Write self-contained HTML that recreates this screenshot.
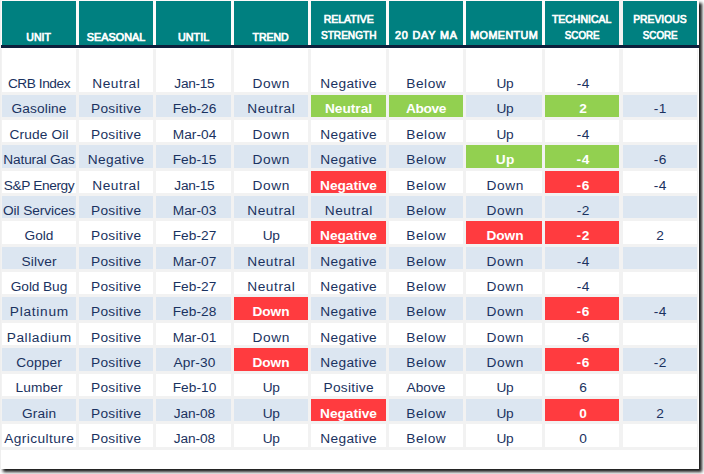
<!DOCTYPE html>
<html><head><meta charset="utf-8"><title>Technical Scores</title>
<style>
html,body{margin:0;padding:0;}
body{width:704px;height:474px;background:#ffffff;position:relative;overflow:hidden;font-family:"Liberation Sans",sans-serif;}
#sheet{position:absolute;left:0;top:0;width:699px;height:469px;background:#fff;box-shadow:3px 3px 3px 0 #1a1a1a;}
#grid{position:absolute;left:0;top:49px;width:698px;height:401px;background:#f2f2f2;}
#topgap{position:absolute;left:0;top:0;width:699px;height:45px;background:#fdfafa;}
#lastgap{position:absolute;left:619px;top:0;width:4px;height:45px;background:#f2f2f2;}
#lstrip{position:absolute;left:0;top:0;width:1px;height:469px;background:#efefef;}
#navy{position:absolute;left:0;top:45px;width:699px;height:3px;background:#0d1f3c;}
.h{position:absolute;top:1px;height:44px;background:#008080;color:#fff;font-weight:normal;-webkit-text-stroke:0.7px #fff;font-size:10.8px;line-height:16px;text-align:center;white-space:nowrap;}
.h i{font-style:normal;display:inline-block;transform-origin:center;}
.h span{position:absolute;left:-10px;right:-10px;display:block;}
.c{position:absolute;color:#1a3260;font-size:13.7px;text-align:center;white-space:nowrap;background:#fff;}
.c span{position:absolute;left:-10px;right:-10px;line-height:16px;display:block;}
.b{background:#dce6f1;}
.g{background:#92d050;color:#fff;font-weight:bold;-webkit-text-stroke:0px #fff;}
.r{background:#ff3b3f;color:#fff;font-weight:bold;-webkit-text-stroke:0px #fff;}
</style></head><body>
<div id="sheet">
<div id="topgap"></div><div id="lastgap"></div>

<div class="h" style="left:2px;width:74px"><span style="bottom:0px"><i style="transform:scaleX(0.974);">UNIT</i></span></div>
<div class="h" style="left:79px;width:74px"><span style="bottom:0px"><i style="letter-spacing:0.07px;margin-right:-0.07px;">SEASONAL</i></span></div>
<div class="h" style="left:156px;width:75px"><span style="bottom:0px"><i style="transform:scaleX(0.994);">UNTIL</i></span></div>
<div class="h" style="left:234px;width:74px"><span style="bottom:0px"><i style="transform:scaleX(0.974);">TREND</i></span></div>
<div class="h" style="left:311px;width:75px"><span style="bottom:18px"><i style="transform:scaleX(0.975);">RELATIVE</i></span> <span style="bottom:2px"><i style="transform:scaleX(0.934);">STRENGTH</i></span></div>
<div class="h" style="left:389px;width:74px"><span style="bottom:2px"><i style="letter-spacing:0.83px;margin-right:-0.83px;">20 DAY MA</i></span></div>
<div class="h" style="left:466px;width:76px"><span style="bottom:2px"><i style="letter-spacing:0.40px;margin-right:-0.40px;">MOMENTUM</i></span></div>
<div class="h" style="left:545px;width:74px"><span style="bottom:18px"><i style="transform:scaleX(0.971);">TECHNICAL</i></span> <span style="bottom:2px"><i style="transform:scaleX(0.905);">SCORE</i></span></div>
<div class="h" style="left:623px;width:74px"><span style="bottom:18px"><i style="transform:scaleX(0.956);">PREVIOUS</i></span> <span style="bottom:2px"><i style="transform:scaleX(0.905);">SCORE</i></span></div>
<div id="navy"></div>
<div id="grid"></div><div id="lstrip"></div>
<div class="c" style="left:2px;top:49px;width:74px;height:43px"><span style="bottom:0px;letter-spacing:-0.44px">CRB Index</span></div>
<div class="c" style="left:79px;top:49px;width:74px;height:43px"><span style="bottom:0px;letter-spacing:0.56px;padding-left:0.56px">Neutral</span></div>
<div class="c" style="left:156px;top:49px;width:75px;height:43px"><span style="bottom:0px;letter-spacing:-0.32px;padding-left:1.68px">Jan-15</span></div>
<div class="c" style="left:234px;top:49px;width:74px;height:43px"><span style="bottom:0px;letter-spacing:0.60px;padding-left:0.60px">Down</span></div>
<div class="c" style="left:311px;top:49px;width:75px;height:43px"><span style="bottom:0px;letter-spacing:0.35px;padding-left:0.35px">Negative</span></div>
<div class="c" style="left:389px;top:49px;width:74px;height:43px"><span style="bottom:0px;letter-spacing:0.50px;padding-left:0.50px">Below</span></div>
<div class="c" style="left:466px;top:49px;width:76px;height:43px"><span style="bottom:0px;letter-spacing:-0.50px;padding-left:1.50px">Up</span></div>
<div class="c" style="left:545px;top:49px;width:74px;height:43px"><span style="bottom:0px;letter-spacing:0.50px;padding-left:2.50px">-4</span></div>
<div class="c" style="left:623px;top:49px;width:74px;height:43px"><span style="bottom:0px;letter-spacing:0.00px"></span></div>
<div class="c b" style="left:2px;top:95px;width:74px;height:22px"><span style="bottom:0px;letter-spacing:0.11px;padding-left:0.11px">Gasoline</span></div>
<div class="c b" style="left:79px;top:95px;width:74px;height:22px"><span style="bottom:0px;letter-spacing:0.31px;padding-left:0.31px">Positive</span></div>
<div class="c b" style="left:156px;top:95px;width:75px;height:22px"><span style="bottom:0px;letter-spacing:0.04px;padding-left:2.04px">Feb-26</span></div>
<div class="c b" style="left:234px;top:95px;width:74px;height:22px"><span style="bottom:0px;letter-spacing:0.56px;padding-left:0.56px">Neutral</span></div>
<div class="c b g" style="left:311px;top:95px;width:75px;height:22px"><span style="bottom:0px;letter-spacing:-0.00px">Neutral</span></div>
<div class="c b g" style="left:389px;top:95px;width:74px;height:22px"><span style="bottom:0px;letter-spacing:-0.40px">Above</span></div>
<div class="c b" style="left:466px;top:95px;width:76px;height:22px"><span style="bottom:0px;letter-spacing:-0.50px;padding-left:1.50px">Up</span></div>
<div class="c b g" style="left:545px;top:95px;width:74px;height:22px"><span style="bottom:0px;letter-spacing:0.00px;padding-left:2.00px">2</span></div>
<div class="c b" style="left:623px;top:95px;width:74px;height:22px"><span style="bottom:0px;letter-spacing:0.50px;padding-left:0.50px">-1</span></div>
<div class="c" style="left:2px;top:120px;width:74px;height:22px"><span style="bottom:-1px;letter-spacing:0.16px;padding-left:0.16px">Crude Oil</span></div>
<div class="c" style="left:79px;top:120px;width:74px;height:22px"><span style="bottom:-1px;letter-spacing:0.31px;padding-left:0.31px">Positive</span></div>
<div class="c" style="left:156px;top:120px;width:75px;height:22px"><span style="bottom:-1px;letter-spacing:0.04px;padding-left:2.04px">Mar-04</span></div>
<div class="c" style="left:234px;top:120px;width:74px;height:22px"><span style="bottom:-1px;letter-spacing:0.60px;padding-left:0.60px">Down</span></div>
<div class="c" style="left:311px;top:120px;width:75px;height:22px"><span style="bottom:-1px;letter-spacing:0.35px;padding-left:0.35px">Negative</span></div>
<div class="c" style="left:389px;top:120px;width:74px;height:22px"><span style="bottom:-1px;letter-spacing:0.50px;padding-left:0.50px">Below</span></div>
<div class="c" style="left:466px;top:120px;width:76px;height:22px"><span style="bottom:-1px;letter-spacing:-0.50px;padding-left:1.50px">Up</span></div>
<div class="c" style="left:545px;top:120px;width:74px;height:22px"><span style="bottom:-1px;letter-spacing:0.50px;padding-left:2.50px">-4</span></div>
<div class="c" style="left:623px;top:120px;width:74px;height:22px"><span style="bottom:-1px;letter-spacing:0.00px"></span></div>
<div class="c b" style="left:2px;top:145px;width:74px;height:23px"><span style="bottom:0px;letter-spacing:-0.14px">Natural Gas</span></div>
<div class="c b" style="left:79px;top:145px;width:74px;height:23px"><span style="bottom:0px;letter-spacing:0.35px;padding-left:0.35px">Negative</span></div>
<div class="c b" style="left:156px;top:145px;width:75px;height:23px"><span style="bottom:0px;letter-spacing:0.04px;padding-left:2.04px">Feb-15</span></div>
<div class="c b" style="left:234px;top:145px;width:74px;height:23px"><span style="bottom:0px;letter-spacing:0.60px;padding-left:0.60px">Down</span></div>
<div class="c b" style="left:311px;top:145px;width:75px;height:23px"><span style="bottom:0px;letter-spacing:0.35px;padding-left:0.35px">Negative</span></div>
<div class="c b" style="left:389px;top:145px;width:74px;height:23px"><span style="bottom:0px;letter-spacing:0.50px;padding-left:0.50px">Below</span></div>
<div class="c b g" style="left:466px;top:145px;width:76px;height:23px"><span style="bottom:0px;letter-spacing:0.50px;padding-left:2.50px">Up</span></div>
<div class="c b g" style="left:545px;top:145px;width:74px;height:23px"><span style="bottom:0px;letter-spacing:0.60px;padding-left:2.60px">-4</span></div>
<div class="c b" style="left:623px;top:145px;width:74px;height:23px"><span style="bottom:0px;letter-spacing:0.50px;padding-left:0.50px">-6</span></div>
<div class="c" style="left:2px;top:171px;width:74px;height:22px"><span style="bottom:-1px;letter-spacing:-0.36px">S&amp;P Energy</span></div>
<div class="c" style="left:79px;top:171px;width:74px;height:22px"><span style="bottom:-1px;letter-spacing:0.56px;padding-left:0.56px">Neutral</span></div>
<div class="c" style="left:156px;top:171px;width:75px;height:22px"><span style="bottom:-1px;letter-spacing:-0.32px;padding-left:1.68px">Jan-15</span></div>
<div class="c" style="left:234px;top:171px;width:74px;height:22px"><span style="bottom:-1px;letter-spacing:0.60px;padding-left:0.60px">Down</span></div>
<div class="c r" style="left:311px;top:171px;width:75px;height:22px"><span style="bottom:-1px;letter-spacing:-0.03px">Negative</span></div>
<div class="c" style="left:389px;top:171px;width:74px;height:22px"><span style="bottom:-1px;letter-spacing:0.50px;padding-left:0.50px">Below</span></div>
<div class="c" style="left:466px;top:171px;width:76px;height:22px"><span style="bottom:-1px;letter-spacing:0.60px;padding-left:2.60px">Down</span></div>
<div class="c r" style="left:545px;top:171px;width:74px;height:22px"><span style="bottom:-1px;letter-spacing:0.60px;padding-left:2.60px">-6</span></div>
<div class="c" style="left:623px;top:171px;width:74px;height:22px"><span style="bottom:-1px;letter-spacing:0.50px;padding-left:0.50px">-4</span></div>
<div class="c b" style="left:2px;top:196px;width:74px;height:22px"><span style="bottom:-1px;letter-spacing:-0.08px">Oil Services</span></div>
<div class="c b" style="left:79px;top:196px;width:74px;height:22px"><span style="bottom:-1px;letter-spacing:0.31px;padding-left:0.31px">Positive</span></div>
<div class="c b" style="left:156px;top:196px;width:75px;height:22px"><span style="bottom:-1px;letter-spacing:0.04px;padding-left:2.04px">Mar-03</span></div>
<div class="c b" style="left:234px;top:196px;width:74px;height:22px"><span style="bottom:-1px;letter-spacing:0.56px;padding-left:0.56px">Neutral</span></div>
<div class="c b" style="left:311px;top:196px;width:75px;height:22px"><span style="bottom:-1px;letter-spacing:0.56px;padding-left:0.56px">Neutral</span></div>
<div class="c b" style="left:389px;top:196px;width:74px;height:22px"><span style="bottom:-1px;letter-spacing:0.50px;padding-left:0.50px">Below</span></div>
<div class="c b" style="left:466px;top:196px;width:76px;height:22px"><span style="bottom:-1px;letter-spacing:0.60px;padding-left:2.60px">Down</span></div>
<div class="c b" style="left:545px;top:196px;width:74px;height:22px"><span style="bottom:-1px;letter-spacing:0.50px;padding-left:2.50px">-2</span></div>
<div class="c b" style="left:623px;top:196px;width:74px;height:22px"><span style="bottom:-1px;letter-spacing:0.00px"></span></div>
<div class="c" style="left:2px;top:221px;width:74px;height:23px"><span style="bottom:0px;letter-spacing:-0.00px">Gold</span></div>
<div class="c" style="left:79px;top:221px;width:74px;height:23px"><span style="bottom:0px;letter-spacing:0.31px;padding-left:0.31px">Positive</span></div>
<div class="c" style="left:156px;top:221px;width:75px;height:23px"><span style="bottom:0px;letter-spacing:0.04px;padding-left:2.04px">Feb-27</span></div>
<div class="c" style="left:234px;top:221px;width:74px;height:23px"><span style="bottom:0px;letter-spacing:-0.50px">Up</span></div>
<div class="c r" style="left:311px;top:221px;width:75px;height:23px"><span style="bottom:0px;letter-spacing:-0.03px">Negative</span></div>
<div class="c" style="left:389px;top:221px;width:74px;height:23px"><span style="bottom:0px;letter-spacing:0.50px;padding-left:0.50px">Below</span></div>
<div class="c r" style="left:466px;top:221px;width:76px;height:23px"><span style="bottom:0px;letter-spacing:-0.07px;padding-left:1.93px">Down</span></div>
<div class="c r" style="left:545px;top:221px;width:74px;height:23px"><span style="bottom:0px;letter-spacing:0.60px;padding-left:2.60px">-2</span></div>
<div class="c" style="left:623px;top:221px;width:74px;height:23px"><span style="bottom:0px;letter-spacing:0.00px">2</span></div>
<div class="c b" style="left:2px;top:247px;width:74px;height:22px"><span style="bottom:-1px;letter-spacing:0.16px;padding-left:0.16px">Silver</span></div>
<div class="c b" style="left:79px;top:247px;width:74px;height:22px"><span style="bottom:-1px;letter-spacing:0.31px;padding-left:0.31px">Positive</span></div>
<div class="c b" style="left:156px;top:247px;width:75px;height:22px"><span style="bottom:-1px;letter-spacing:0.04px;padding-left:2.04px">Mar-07</span></div>
<div class="c b" style="left:234px;top:247px;width:74px;height:22px"><span style="bottom:-1px;letter-spacing:0.56px;padding-left:0.56px">Neutral</span></div>
<div class="c b" style="left:311px;top:247px;width:75px;height:22px"><span style="bottom:-1px;letter-spacing:0.35px;padding-left:0.35px">Negative</span></div>
<div class="c b" style="left:389px;top:247px;width:74px;height:22px"><span style="bottom:-1px;letter-spacing:0.50px;padding-left:0.50px">Below</span></div>
<div class="c b" style="left:466px;top:247px;width:76px;height:22px"><span style="bottom:-1px;letter-spacing:0.60px;padding-left:2.60px">Down</span></div>
<div class="c b" style="left:545px;top:247px;width:74px;height:22px"><span style="bottom:-1px;letter-spacing:0.50px;padding-left:2.50px">-4</span></div>
<div class="c b" style="left:623px;top:247px;width:74px;height:22px"><span style="bottom:-1px;letter-spacing:0.00px"></span></div>
<div class="c" style="left:2px;top:272px;width:74px;height:22px"><span style="bottom:-1px;letter-spacing:-0.09px">Gold Bug</span></div>
<div class="c" style="left:79px;top:272px;width:74px;height:22px"><span style="bottom:-1px;letter-spacing:0.31px;padding-left:0.31px">Positive</span></div>
<div class="c" style="left:156px;top:272px;width:75px;height:22px"><span style="bottom:-1px;letter-spacing:0.04px;padding-left:2.04px">Feb-27</span></div>
<div class="c" style="left:234px;top:272px;width:74px;height:22px"><span style="bottom:-1px;letter-spacing:0.56px;padding-left:0.56px">Neutral</span></div>
<div class="c" style="left:311px;top:272px;width:75px;height:22px"><span style="bottom:-1px;letter-spacing:0.35px;padding-left:0.35px">Negative</span></div>
<div class="c" style="left:389px;top:272px;width:74px;height:22px"><span style="bottom:-1px;letter-spacing:0.50px;padding-left:0.50px">Below</span></div>
<div class="c" style="left:466px;top:272px;width:76px;height:22px"><span style="bottom:-1px;letter-spacing:0.60px;padding-left:2.60px">Down</span></div>
<div class="c" style="left:545px;top:272px;width:74px;height:22px"><span style="bottom:-1px;letter-spacing:0.50px;padding-left:2.50px">-4</span></div>
<div class="c" style="left:623px;top:272px;width:74px;height:22px"><span style="bottom:-1px;letter-spacing:0.00px"></span></div>
<div class="c b" style="left:2px;top:297px;width:74px;height:23px"><span style="bottom:0px;letter-spacing:0.74px;padding-left:0.74px">Platinum</span></div>
<div class="c b" style="left:79px;top:297px;width:74px;height:23px"><span style="bottom:0px;letter-spacing:0.31px;padding-left:0.31px">Positive</span></div>
<div class="c b" style="left:156px;top:297px;width:75px;height:23px"><span style="bottom:0px;letter-spacing:0.04px;padding-left:2.04px">Feb-28</span></div>
<div class="c b r" style="left:234px;top:297px;width:74px;height:23px"><span style="bottom:0px;letter-spacing:-0.07px">Down</span></div>
<div class="c b" style="left:311px;top:297px;width:75px;height:23px"><span style="bottom:0px;letter-spacing:0.35px;padding-left:0.35px">Negative</span></div>
<div class="c b" style="left:389px;top:297px;width:74px;height:23px"><span style="bottom:0px;letter-spacing:0.50px;padding-left:0.50px">Below</span></div>
<div class="c b" style="left:466px;top:297px;width:76px;height:23px"><span style="bottom:0px;letter-spacing:0.60px;padding-left:2.60px">Down</span></div>
<div class="c b r" style="left:545px;top:297px;width:74px;height:23px"><span style="bottom:0px;letter-spacing:0.60px;padding-left:2.60px">-6</span></div>
<div class="c b" style="left:623px;top:297px;width:74px;height:23px"><span style="bottom:0px;letter-spacing:0.50px;padding-left:0.50px">-4</span></div>
<div class="c" style="left:2px;top:323px;width:74px;height:22px"><span style="bottom:-1px;letter-spacing:0.53px;padding-left:0.53px">Palladium</span></div>
<div class="c" style="left:79px;top:323px;width:74px;height:22px"><span style="bottom:-1px;letter-spacing:0.31px;padding-left:0.31px">Positive</span></div>
<div class="c" style="left:156px;top:323px;width:75px;height:22px"><span style="bottom:-1px;letter-spacing:0.04px;padding-left:2.04px">Mar-01</span></div>
<div class="c" style="left:234px;top:323px;width:74px;height:22px"><span style="bottom:-1px;letter-spacing:0.60px;padding-left:0.60px">Down</span></div>
<div class="c" style="left:311px;top:323px;width:75px;height:22px"><span style="bottom:-1px;letter-spacing:0.35px;padding-left:0.35px">Negative</span></div>
<div class="c" style="left:389px;top:323px;width:74px;height:22px"><span style="bottom:-1px;letter-spacing:0.50px;padding-left:0.50px">Below</span></div>
<div class="c" style="left:466px;top:323px;width:76px;height:22px"><span style="bottom:-1px;letter-spacing:0.60px;padding-left:2.60px">Down</span></div>
<div class="c" style="left:545px;top:323px;width:74px;height:22px"><span style="bottom:-1px;letter-spacing:0.50px;padding-left:2.50px">-6</span></div>
<div class="c" style="left:623px;top:323px;width:74px;height:22px"><span style="bottom:-1px;letter-spacing:0.00px"></span></div>
<div class="c b" style="left:2px;top:348px;width:74px;height:23px"><span style="bottom:0px;letter-spacing:0.12px;padding-left:0.12px">Copper</span></div>
<div class="c b" style="left:79px;top:348px;width:74px;height:23px"><span style="bottom:0px;letter-spacing:0.31px;padding-left:0.31px">Positive</span></div>
<div class="c b" style="left:156px;top:348px;width:75px;height:23px"><span style="bottom:0px;letter-spacing:0.16px;padding-left:2.16px">Apr-30</span></div>
<div class="c b r" style="left:234px;top:348px;width:74px;height:23px"><span style="bottom:0px;letter-spacing:-0.07px">Down</span></div>
<div class="c b" style="left:311px;top:348px;width:75px;height:23px"><span style="bottom:0px;letter-spacing:0.35px;padding-left:0.35px">Negative</span></div>
<div class="c b" style="left:389px;top:348px;width:74px;height:23px"><span style="bottom:0px;letter-spacing:0.50px;padding-left:0.50px">Below</span></div>
<div class="c b" style="left:466px;top:348px;width:76px;height:23px"><span style="bottom:0px;letter-spacing:0.60px;padding-left:2.60px">Down</span></div>
<div class="c b r" style="left:545px;top:348px;width:74px;height:23px"><span style="bottom:0px;letter-spacing:0.60px;padding-left:2.60px">-6</span></div>
<div class="c b" style="left:623px;top:348px;width:74px;height:23px"><span style="bottom:0px;letter-spacing:0.50px;padding-left:0.50px">-2</span></div>
<div class="c" style="left:2px;top:374px;width:74px;height:22px"><span style="bottom:0px;letter-spacing:0.12px;padding-left:0.12px">Lumber</span></div>
<div class="c" style="left:79px;top:374px;width:74px;height:22px"><span style="bottom:0px;letter-spacing:0.31px;padding-left:0.31px">Positive</span></div>
<div class="c" style="left:156px;top:374px;width:75px;height:22px"><span style="bottom:0px;letter-spacing:0.04px;padding-left:2.04px">Feb-10</span></div>
<div class="c" style="left:234px;top:374px;width:74px;height:22px"><span style="bottom:0px;letter-spacing:-0.50px">Up</span></div>
<div class="c" style="left:311px;top:374px;width:75px;height:22px"><span style="bottom:0px;letter-spacing:0.31px;padding-left:0.31px">Positive</span></div>
<div class="c" style="left:389px;top:374px;width:74px;height:22px"><span style="bottom:0px;letter-spacing:0.01px;padding-left:0.01px">Above</span></div>
<div class="c" style="left:466px;top:374px;width:76px;height:22px"><span style="bottom:0px;letter-spacing:-0.50px;padding-left:1.50px">Up</span></div>
<div class="c" style="left:545px;top:374px;width:74px;height:22px"><span style="bottom:0px;letter-spacing:0.00px;padding-left:2.00px">6</span></div>
<div class="c" style="left:623px;top:374px;width:74px;height:22px"><span style="bottom:0px;letter-spacing:0.00px"></span></div>
<div class="c b" style="left:2px;top:399px;width:74px;height:22px"><span style="bottom:-1px;letter-spacing:0.14px;padding-left:0.14px">Grain</span></div>
<div class="c b" style="left:79px;top:399px;width:74px;height:22px"><span style="bottom:-1px;letter-spacing:0.31px;padding-left:0.31px">Positive</span></div>
<div class="c b" style="left:156px;top:399px;width:75px;height:22px"><span style="bottom:-1px;letter-spacing:-0.12px;padding-left:1.88px">Jan-08</span></div>
<div class="c b" style="left:234px;top:399px;width:74px;height:22px"><span style="bottom:-1px;letter-spacing:-0.50px">Up</span></div>
<div class="c b r" style="left:311px;top:399px;width:75px;height:22px"><span style="bottom:-1px;letter-spacing:-0.03px">Negative</span></div>
<div class="c b" style="left:389px;top:399px;width:74px;height:22px"><span style="bottom:-1px;letter-spacing:0.50px;padding-left:0.50px">Below</span></div>
<div class="c b" style="left:466px;top:399px;width:76px;height:22px"><span style="bottom:-1px;letter-spacing:-0.50px;padding-left:1.50px">Up</span></div>
<div class="c b r" style="left:545px;top:399px;width:74px;height:22px"><span style="bottom:-1px;letter-spacing:0.00px;padding-left:2.00px">0</span></div>
<div class="c b" style="left:623px;top:399px;width:74px;height:22px"><span style="bottom:-1px;letter-spacing:0.00px">2</span></div>
<div class="c" style="left:2px;top:424px;width:74px;height:23px"><span style="bottom:0px;letter-spacing:0.42px;padding-left:0.42px">Agriculture</span></div>
<div class="c" style="left:79px;top:424px;width:74px;height:23px"><span style="bottom:0px;letter-spacing:0.31px;padding-left:0.31px">Positive</span></div>
<div class="c" style="left:156px;top:424px;width:75px;height:23px"><span style="bottom:0px;letter-spacing:-0.12px;padding-left:1.88px">Jan-08</span></div>
<div class="c" style="left:234px;top:424px;width:74px;height:23px"><span style="bottom:0px;letter-spacing:-0.50px">Up</span></div>
<div class="c" style="left:311px;top:424px;width:75px;height:23px"><span style="bottom:0px;letter-spacing:0.35px;padding-left:0.35px">Negative</span></div>
<div class="c" style="left:389px;top:424px;width:74px;height:23px"><span style="bottom:0px;letter-spacing:0.50px;padding-left:0.50px">Below</span></div>
<div class="c" style="left:466px;top:424px;width:76px;height:23px"><span style="bottom:0px;letter-spacing:-0.50px;padding-left:1.50px">Up</span></div>
<div class="c" style="left:545px;top:424px;width:74px;height:23px"><span style="bottom:0px;letter-spacing:0.00px;padding-left:2.00px">0</span></div>
<div class="c" style="left:623px;top:424px;width:74px;height:23px"><span style="bottom:0px;letter-spacing:0.00px"></span></div>
</div>
</body></html>
